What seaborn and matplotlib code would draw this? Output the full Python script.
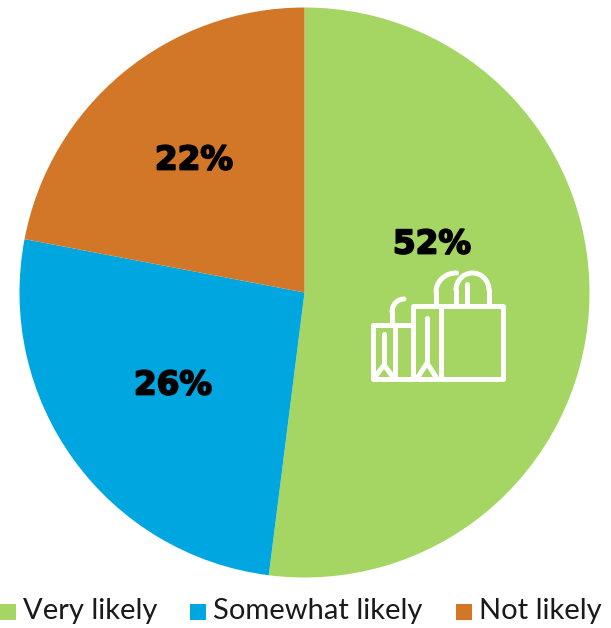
import matplotlib
matplotlib.use("Agg")
import matplotlib.pyplot as plt
import matplotlib.patheffects as pe
import seaborn as sns
from matplotlib.patches import Arc, Rectangle

categories = ["Very likely", "Somewhat likely", "Not likely"]
shares = [52, 26, 22]
colors = ["#A5D562", "#00A6E0", "#D27728"]
value_labels = ["52%", "26%", "22%"]

sns.set_theme(style="white")
plt.rcParams["font.family"] = ["Lato", "DejaVu Sans"]

W, H = 611, 628
fig = plt.figure(figsize=(W / 100, H / 100), dpi=100, facecolor="white")

# Pie axes, sized in pixels of the final figure
cx, cy, r = 304.5, 292.5, 285.0
ax = fig.add_axes([(cx - r) / W, 1 - (cy + r) / H, 2 * r / W, 2 * r / H])
ax.pie(shares, colors=colors, startangle=90, counterclock=False, radius=1.0,
       wedgeprops=dict(linewidth=0, edgecolor="none"))
ax.set_xlim(-1, 1)
ax.set_ylim(-1, 1)
ax.set_aspect("equal")
ax.axis("off")

# Overlay in pixel coordinates for the labels, icon and key
ov = fig.add_axes([0, 0, 1, 1], facecolor="none")
ov.set_xlim(0, W)
ov.set_ylim(H, 0)
ov.axis("off")

label_xy = [(432, 244), (173, 385), (194, 160)]
for text, (x, y) in zip(value_labels, label_xy):
    ov.text(x, y, text, ha="center", va="center", fontsize=23.5,
            fontweight="bold", family=["DejaVu Sans"], color="black",
            path_effects=[pe.withStroke(linewidth=1.3, foreground="black")])

lw = 3.6
style = dict(color="white", lw=lw, solid_capstyle="round", solid_joinstyle="round")
ov.add_patch(Rectangle((413, 306), 90, 73, fill=False, ec="white", lw=lw, joinstyle="round"))
ov.add_patch(Rectangle((373, 325), 40, 54, fill=False, ec="white", lw=lw, joinstyle="round"))
ov.plot([441, 441], [306, 379], **style)
ov.plot([395, 395], [325, 379], **style)

# Bookmark slits inside the two smaller bags
ov.plot([427, 427], [318, 362], **style)
ov.plot([418, 427, 436], [377, 363, 377], **style)
ov.plot([384, 384], [334, 364], **style)
ov.plot([375, 384, 393], [377, 365, 377], **style)

# Handles
ov.plot([392, 392], [325, 312], **style)
ov.add_patch(Arc((404, 312), 24, 26, theta1=180, theta2=270, color="white", lw=lw, capstyle="round"))
ov.plot([436, 436], [306, 292], **style)
ov.add_patch(Arc((456, 292), 40, 38, theta1=180, theta2=272, color="white", lw=lw, capstyle="round"))
ov.plot([456, 456], [306, 290], **style)
ov.plot([489, 489], [306, 290], **style)
ov.add_patch(Arc((472.5, 290), 33, 34, theta1=180, theta2=360, color="white", lw=lw, capstyle="round"))
ov.plot([467, 467], [284, 305], **style)

# Colour key along the bottom edge
key_swatch_x = [0, 190, 456]
key_text_x = [23, 213, 479]
for name, color, sx, tx in zip(categories, colors, key_swatch_x, key_text_x):
    ov.add_patch(Rectangle((sx, 604), 16, 16, fc=color, ec="none"))
    ov.text(tx, 611, name, ha="left", va="center", fontsize=21, color="#1a1a1a")

fig.savefig("out.png", dpi=100, facecolor="white")
